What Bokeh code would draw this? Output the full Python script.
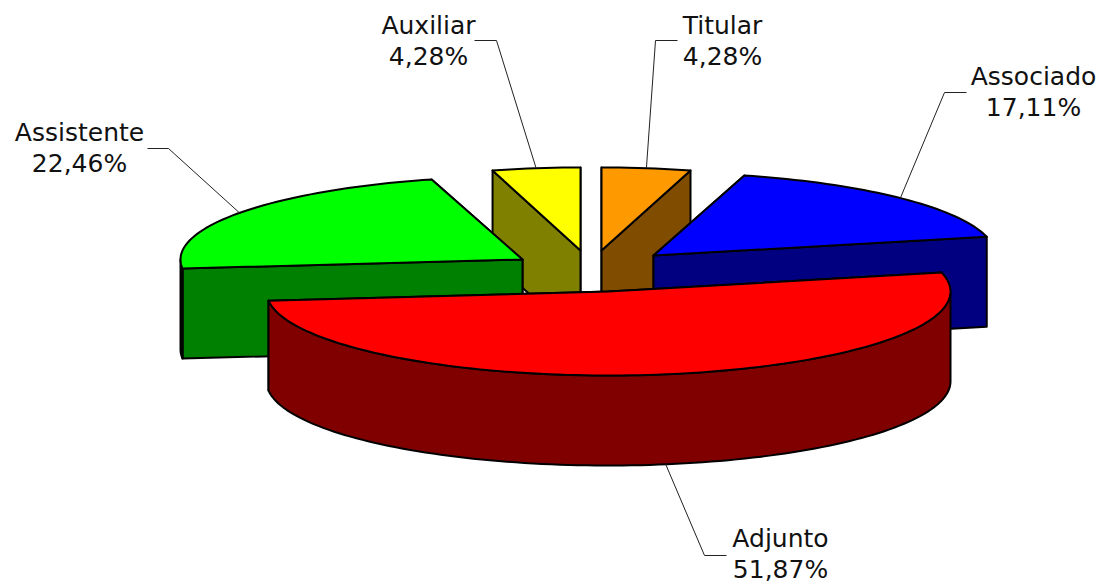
import math
from bokeh.embed import file_html
from bokeh.resources import INLINE
from bokeh.plotting import figure
from bokeh.models import Range1d
from bokeh.core.properties import value

# ---- data (clockwise from the top of the pie) ----
categories = ["Titular", "Associado", "Adjunto", "Assistente", "Auxiliar"]
shares = [4.28, 17.11, 51.87, 22.46, 4.28]
top_colors = ["#FF9900", "#0000FF", "#FF0000", "#00FF00", "#FFFF00"]
wall_colors = ["#804C00", "#000080", "#800000", "#008000", "#808000"]

# exploded slice centres, radii of the projected disc, wall height (screen px)
centres = [(601, 250), (653, 255), (608, 291), (522, 259), (580, 250)]
radii = [(335, 83), (342, 83), (342, 84), (342, 83), (331, 83)]
DEPTH = 90
draw_order = [0, 4, 1, 3, 2]

# label anchor (centre x, middle of first line) and leader elbow/end
label_pos = [(722, 25), (1033, 76), (780, 538), (79, 132), (428, 25)]
elbows = [((655, 40), (677, 40)), ((944, 92), (966, 92)), ((704, 555), (726, 555)),
          ((168, 148), (147, 148)), ((496, 40), (474, 40))]
LINE_GAP = 31
FONT_SIZE = "25px"

W, H = 1101, 584
p = figure(width=W, height=H, x_range=Range1d(0, W), y_range=Range1d(H, 0),
           x_axis_type=None, y_axis_type=None, toolbar_location=None,
           output_backend="svg", min_border=0, outline_line_color=None,
           background_fill_color="white", border_fill_color="white")
p.grid.visible = False


def pt(c, r, deg, drop=0.0):
    a = math.radians(deg)
    return c[0] + r[0] * math.sin(a), c[1] - r[1] * math.cos(a) + drop


def arc(c, r, a0, a1, drop=0.0):
    n = max(2, int(abs(a1 - a0) / 1.5) + 1)
    return [pt(c, r, a0 + (a1 - a0) * i / (n - 1), drop) for i in range(n)]


def poly(points, fill):
    p.patch([q[0] for q in points], [q[1] for q in points], fill_color=fill,
            line_color="black", line_width=2, line_join="round")


total = sum(shares)
start = 0.0
spans = []
for s in shares:
    end = start + s / total * 360.0
    spans.append((start, end))
    start = end

for i in draw_order:
    a0, a1 = spans[i]
    c, r = centres[i], radii[i]
    # radial side faces, the one further back first
    faces = sorted([a0, a1], key=lambda d: pt(c, r, d)[1])
    for a in faces:
        o = pt(c, r, a)
        poly([c, o, (o[0], o[1] + DEPTH), (c[0], c[1] + DEPTH)], wall_colors[i])
    # outer rim, only on the half that faces the viewer
    b0, b1 = max(a0, 90.0), min(a1, 270.0)
    if b1 > b0:
        poly(arc(c, r, b0, b1) + arc(c, r, b1, b0, DEPTH), wall_colors[i])
    # top face
    poly([c] + arc(c, r, a0, a1), top_colors[i])

# leaders and labels
for i, (a0, a1) in enumerate(spans):
    mid = (a0 + a1) / 2
    c, r = centres[i], radii[i]
    tip = pt(c, r, mid, DEPTH if 90 < mid < 270 else 0.0)
    e0, e1 = elbows[i]
    p.line([tip[0], e0[0], e1[0]], [tip[1], e0[1], e1[1]], line_color="#222222", line_width=1)
    x, y = label_pos[i]
    pct = f"{shares[i]:.2f}%".replace(".", ",")
    p.text([x, x], [y, y + LINE_GAP], text=[categories[i], pct],
           text_font=value("DejaVu Sans"), text_font_size=value(FONT_SIZE),
           text_align="center", text_baseline="middle", text_color="#111111")

open("out.html", "w").write(file_html(p, INLINE))
